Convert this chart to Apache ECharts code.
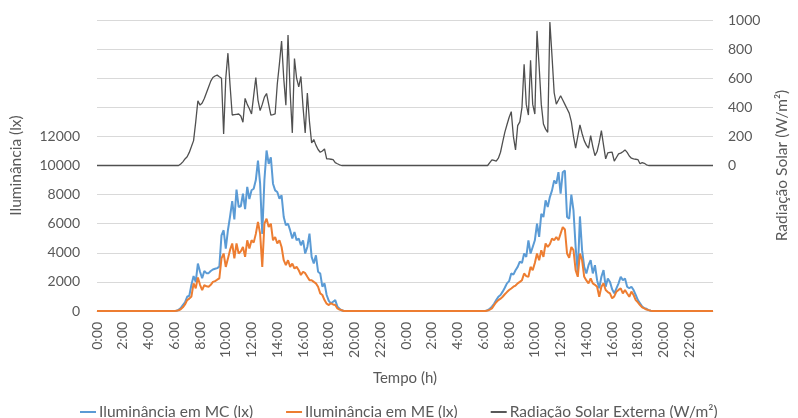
<!DOCTYPE html>
<html>
<head>
<meta charset="utf-8">
<script src="https://cdn.jsdelivr.net/npm/echarts@6/dist/echarts.min.js"></script>
<style>html,body{margin:0;padding:0;background:#fff;}#c{width:798px;height:418px;}</style>
</head>
<body>
<div id="c"></div>
<script>
// 10-minute categories for two days
const times = [];
for (let d = 0; d < 2; d++) {
  for (let h = 0; h < 24; h++) {
    for (let m = 0; m < 60; m += 10) {
      times.push(h + ':' + (m < 10 ? '0' + m : m));
    }
  }
}

const mcDay1 = [
  0,0,0,0,0,0,0,0,0,0,0,0, 0,0,0,0,0,0,0,0,0,0,0,0, 0,0,0,0,0,0,0,0,0,0,0,0,
  0,20,80,200,400,600,
  980,1050,1800,2400,2000,3260,
  2700,2250,2750,2600,2600,2750,
  2850,2900,2950,3050,5200,5550,
  4290,5550,6500,7550,6300,8350,
  7150,7200,8060,7000,8530,7700,
  8300,8400,9000,10340,8750,5300,
  9000,11030,10110,10570,8750,8290,
  8180,7720,7950,6460,5900,6000,
  5540,4980,5430,4860,4980,4520,
  4860,3950,4400,5320,3720,3260,
  3830,2700,2580,1670,1900,1100,
  700,530,640,750,300,150,
  50,0,
  0,0,0,0,0,0,0,0,0,0,0,0, 0,0,0,0,0,0,0,0,0,0,0,0, 0,0,0,0
];
const mcDay2 = [
  0,0,0,0,0,0,0,0,0,0,0,0, 0,0,0,0,0,0,0,0,0,0,0,0, 0,0,0,0,0,0,0,0,0,0,0,0,
  0,0,60,150,300,500,
  750,980,1100,1330,1600,1900,
  2050,2580,2500,2800,3030,3400,
  3300,3950,3720,4860,3950,4400,
  4860,6000,5090,6680,6460,7600,
  7150,7830,8290,8970,8750,9540,
  8060,9540,9660,6460,6340,8000,
  6910,4400,2580,6500,4180,3030,
  2580,3150,3490,2580,3150,2120,
  1560,2350,2810,1670,2240,2000,
  1500,1210,1560,1900,2350,2120,
  2240,1670,1560,1670,1440,1100,
  750,530,300,200,150,60,
  20,0,
  0,0,0,0,0,0,0,0,0,0,0,0, 0,0,0,0,0,0,0,0,0,0,0,0, 0,0,0,0
];
const meDay1 = [
  0,0,0,0,0,0,0,0,0,0,0,0, 0,0,0,0,0,0,0,0,0,0,0,0, 0,0,0,0,0,0,0,0,0,0,0,0,
  0,10,50,120,250,450,
  750,850,1000,1900,1560,2300,
  1800,1440,1780,1700,1670,1800,
  2000,2050,2150,2240,3610,3950,
  3030,3600,4200,4640,3610,4640,
  3950,4100,4400,3720,4860,4290,
  4860,4700,5300,6120,5320,3030,
  6000,6340,5770,6000,4860,5090,
  4640,4860,4400,3490,3150,3490,
  3030,3260,2920,3030,2800,2470,
  2700,2600,2350,2120,2120,2000,
  1900,1670,1210,1100,750,500,
  410,530,450,410,180,100,
  50,0,
  0,0,0,0,0,0,0,0,0,0,0,0, 0,0,0,0,0,0,0,0,0,0,0,0, 0,0,0,0
];
const meDay2 = [
  0,0,0,0,0,0,0,0,0,0,0,0, 0,0,0,0,0,0,0,0,0,0,0,0, 0,0,0,0,0,0,0,0,0,0,0,0,
  0,0,30,100,180,400,
  600,750,850,980,1150,1300,
  1440,1550,1670,1750,1900,2000,
  2120,2580,2400,2350,3030,2810,
  3300,3950,3490,4180,3720,4640,
  4400,4600,4980,4860,5090,4860,
  5320,5770,5600,3950,3650,4400,
  4180,2810,2350,3950,3490,2350,
  2100,1900,2240,1900,1800,1670,
  980,1670,1900,1440,1300,1210,
  870,1000,1330,1450,1560,1210,
  1440,1200,980,1330,1100,750,
  600,410,250,180,100,60,
  20,0,
  0,0,0,0,0,0,0,0,0,0,0,0, 0,0,0,0,0,0,0,0,0,0,0,0, 0,0,0,0
];
const radDay1 = [
  0,0,0,0,0,0,0,0,0,0,0,0, 0,0,0,0,0,0,0,0,0,0,0,0, 0,0,0,0,0,0,0,0,0,0,0,0,
  0,0,0,10,25,45,
  60,90,130,171,300,445,
  415,430,460,500,540,580,
  605,615,621,610,600,217,
  600,772,550,347,350,352,
  354,340,297,461,420,390,
  354,480,605,450,377,420,
  470,495,420,347,350,354,
  560,700,856,600,415,897,
  500,224,735,600,541,612,
  400,224,498,300,155,178,
  140,110,91,100,114,46,
  45,43,41,20,12,5,
  0,0,
  0,0,0,0,0,0,0,0,0,0,0,0, 0,0,0,0,0,0,0,0,0,0,0,0, 0,0,0,0
];
const radDay2 = [
  0,0,0,0,0,0,0,0,0,0,0,0, 0,0,0,0,0,0,0,0,0,0,0,0, 0,0,0,0,0,0,0,0,0,0,0,0,
  0,0,0,20,39,35,
  30,50,91,160,228,280,
  330,370,200,107,274,300,
  400,696,420,347,724,420,
  354,925,680,420,285,250,
  228,986,750,500,422,450,
  479,450,420,390,360,301,
  200,119,200,279,220,171,
  140,119,205,130,68,96,
  160,240,140,46,87,90,
  91,30,55,80,85,95,
  107,90,65,50,45,43,
  41,12,20,15,5,0,
  0,0,
  0,0,0,0,0,0,0,0,0,0,0,0, 0,0,0,0,0,0,0,0,0,0,0,0, 0,0,0,0
];

const seriesNames = ['Iluminância em MC (lx)', 'Iluminância em ME (lx)', 'Radiação Solar Externa (W/m²)'];
const leftTicks = [0, 2000, 4000, 6000, 8000, 10000, 12000];
const rightTicks = [0, 200, 400, 600, 800, 1000];

const mc = mcDay1.concat(mcDay2);
const me = meDay1.concat(meDay2);
const rad = radDay1.concat(radDay2);

const txt = '#595959';
const font = 'Lato';

const chart = echarts.init(document.getElementById('c'), null, {renderer: 'canvas'});
chart.setOption({
  backgroundColor: '#ffffff',
  animation: false,
  textStyle: {fontFamily: font},
  grid: {left: 92, right: 80, top: 20, bottom: 107},
  legend: {
    top: 399, left: 75,
    icon: 'rect', itemWidth: 16, itemHeight: 2, itemGap: 33,
    textStyle: {color: txt, fontSize: 15.5, fontFamily: font, padding: [0, 0, 0, -2]},
    data: seriesNames
  },
  xAxis: {
    type: 'category', boundaryGap: false, data: times,
    axisLine: {lineStyle: {color: '#d9d9d9'}},
    axisTick: {show: false},
    axisLabel: {interval: 11, rotate: 90, color: txt, fontSize: 14, margin: 11, fontFamily: font},
    name: 'Tempo (h)', nameLocation: 'middle', nameGap: 60,
    nameTextStyle: {color: txt, fontSize: 15, fontFamily: font}
  },
  yAxis: [{
    type: 'value', min: 0, max: 20000, interval: 2000,
    axisLine: {show: false}, axisTick: {show: false},
    splitLine: {lineStyle: {color: '#d9d9d9'}},
    axisLabel: {color: txt, fontSize: 14, margin: 17, fontFamily: font,
      formatter: v => leftTicks.indexOf(v) >= 0 ? String(v) : ''},
    name: 'Iluminância (lx)', nameLocation: 'middle', nameGap: 73, nameRotate: 90,
    nameTextStyle: {color: txt, fontSize: 15.5, fontFamily: font}
  }, {
    type: 'value', min: -1000, max: 1000, interval: 200,
    axisLine: {show: false}, axisTick: {show: false},
    splitLine: {show: false},
    axisLabel: {color: txt, fontSize: 14, margin: 15, fontFamily: font,
      formatter: v => rightTicks.indexOf(v) >= 0 ? String(v) : ''},
    name: 'Radiação Solar (W/m²)', nameLocation: 'middle', nameGap: 61, nameRotate: 90,
    nameTextStyle: {color: txt, fontSize: 15.5, fontFamily: font}
  }],
  series: [
    {name: seriesNames[0], type: 'line', yAxisIndex: 0, data: mc, symbol: 'none',
      itemStyle: {color: '#5B9BD5'}, lineStyle: {color: '#5B9BD5', width: 2}},
    {name: seriesNames[1], type: 'line', yAxisIndex: 0, data: me, symbol: 'none',
      itemStyle: {color: '#ED7D31'}, lineStyle: {color: '#ED7D31', width: 2}},
    {name: seriesNames[2], type: 'line', yAxisIndex: 1, data: rad, symbol: 'none',
      itemStyle: {color: '#595959'}, lineStyle: {color: '#505050', width: 1.3}}
  ]
});
</script>
</body>
</html>
